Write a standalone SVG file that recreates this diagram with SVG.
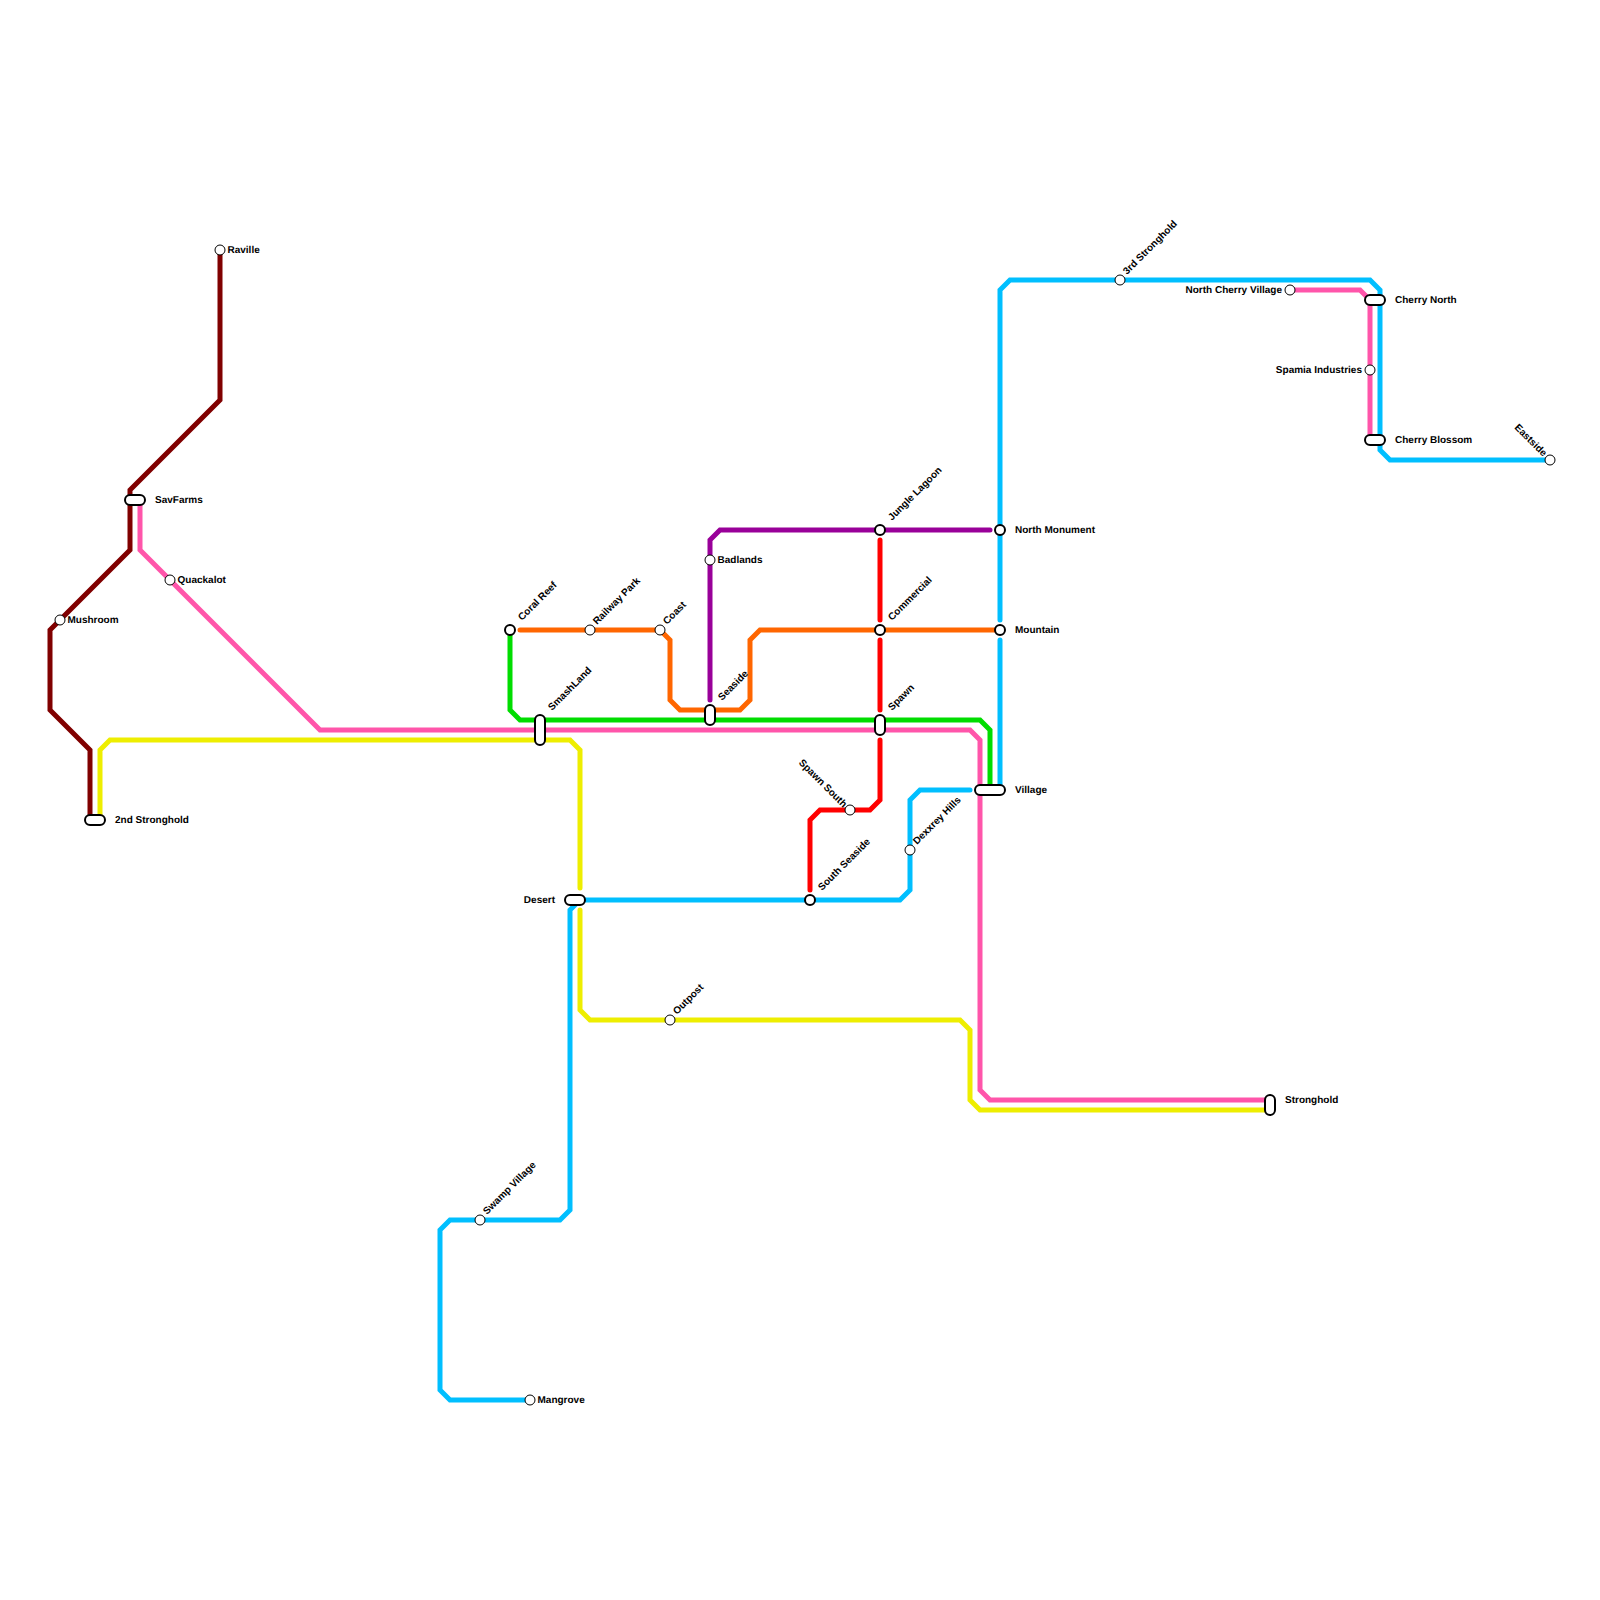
<svg xmlns="http://www.w3.org/2000/svg" width="1600" height="1600" viewBox="0 0 1600 1600">
<style>
.l{fill:none;stroke-width:5;stroke-linecap:round;stroke-linejoin:miter}
.s{fill:#fff;stroke:#000;stroke-width:1}
.t{fill:#fff;stroke:#000;stroke-width:2}
.p{fill:#fff;stroke:#000;stroke-width:2}
text{font-family:"Liberation Sans",Arial,sans-serif;font-size:10px;font-weight:bold;fill:#000;text-rendering:geometricPrecision}
</style>
<rect width="1600" height="1600" fill="#fff"/>
<g id="connectors">
<path class="l" stroke="#800000" d="M220 250V400L130 490V550L50 630V710L90 750V820"/>
<path class="l" stroke="#ff55aa" d="M140 500V550L320 730H970L980 740V1090L990 1100H1270"/>
<path class="l" stroke="#ff55aa" d="M1290 290H1360L1370 300V440"/>
<path class="l" stroke="#eeee00" d="M100 820V750L110 740H570L580 750V888"/>
<path class="l" stroke="#eeee00" d="M580 910V1010L590 1020H960L970 1030V1100L980 1110H1270"/>
<path class="l" stroke="#00dd00" d="M510 630V710L520 720H980L990 730V790"/>
<path class="l" stroke="#ff6600" d="M520 630H660L670 640V700L680 710H740L750 700V640L760 630H1000"/>
<path class="l" stroke="#990099" d="M710 700V540L720 530H990"/>
<path class="l" stroke="#ff0000" d="M880 540V620"/>
<path class="l" stroke="#ff0000" d="M880 640V710"/>
<path class="l" stroke="#ff0000" d="M880 740V800L870 810H820L810 820V890"/>
<path class="l" stroke="#00bfff" d="M530 1400H450L440 1390V1230L450 1220H560L570 1210V910L580 900H900L910 890V800L920 790H970"/>
<path class="l" stroke="#00bfff" d="M1000 790V640"/>
<path class="l" stroke="#00bfff" d="M1000 620V290L1010 280H1370L1380 290V450L1390 460H1550"/>
</g>
<g id="raville"><circle class="s" cx="220" cy="250" r="5"/><text x="227.500" y="252.500">Raville</text></g>
<g id="savfarms"><rect class="p" x="125" y="495" width="20" height="10" rx="5"/><text x="155" y="502.500">SavFarms</text></g>
<g id="quackalot"><circle class="s" cx="170" cy="580" r="5"/><text x="177.500" y="582.500">Quackalot</text></g>
<g id="mushroom"><circle class="s" cx="60" cy="620" r="5"/><text x="67.500" y="622.500">Mushroom</text></g>
<g id="second-stronghold"><rect class="p" x="85" y="815" width="20" height="10" rx="5"/><text x="115" y="822.500">2nd Stronghold</text></g>
<g id="coral-reef"><circle class="t" cx="510" cy="630" r="5"/><text transform="translate(522 621) rotate(-45)">Coral Reef</text></g>
<g id="railway-park"><circle class="s" cx="590" cy="630" r="5"/><text transform="translate(597 625) rotate(-45)">Railway Park</text></g>
<g id="coast"><circle class="s" cx="660" cy="630" r="5"/><text transform="translate(667 625) rotate(-45)">Coast</text></g>
<g id="smashland"><rect class="p" x="535" y="715" width="10" height="30" rx="5"/><text transform="translate(552 711) rotate(-45)">SmashLand</text></g>
<g id="seaside"><rect class="p" x="705" y="705" width="10" height="20" rx="5"/><text transform="translate(722 701) rotate(-45)">Seaside</text></g>
<g id="badlands"><circle class="s" cx="710" cy="560" r="5"/><text x="717.500" y="562.500">Badlands</text></g>
<g id="jungle-lagoon"><circle class="t" cx="880" cy="530" r="5"/><text transform="translate(892 521) rotate(-45)">Jungle Lagoon</text></g>
<g id="commercial"><circle class="t" cx="880" cy="630" r="5"/><text transform="translate(892 621) rotate(-45)">Commercial</text></g>
<g id="spawn"><rect class="p" x="875" y="715" width="10" height="20" rx="5"/><text transform="translate(892 711) rotate(-45)">Spawn</text></g>
<g id="spawn-south"><circle class="s" cx="850" cy="810" r="5"/><text text-anchor="end" transform="translate(843 808) rotate(45)">Spawn South</text></g>
<g id="south-seaside"><circle class="t" cx="810" cy="900" r="5"/><text transform="translate(822 891) rotate(-45)">South Seaside</text></g>
<g id="dexxrey-hills"><circle class="s" cx="910" cy="850" r="5"/><text transform="translate(917 845) rotate(-45)">Dexxrey Hills</text></g>
<g id="north-monument"><circle class="t" cx="1000" cy="530" r="5"/><text x="1015" y="532.500">North Monument</text></g>
<g id="mountain"><circle class="t" cx="1000" cy="630" r="5"/><text x="1015" y="632.500">Mountain</text></g>
<g id="village"><rect class="p" x="975" y="785" width="30" height="10" rx="5"/><text x="1015" y="792.500">Village</text></g>
<g id="desert"><rect class="p" x="565" y="895" width="20" height="10" rx="5"/><text x="555" y="902.500" text-anchor="end">Desert</text></g>
<g id="outpost"><circle class="s" cx="670" cy="1020" r="5"/><text transform="translate(677 1015) rotate(-45)">Outpost</text></g>
<g id="swamp-village"><circle class="s" cx="480" cy="1220" r="5"/><text transform="translate(487 1215) rotate(-45)">Swamp Village</text></g>
<g id="mangrove"><circle class="s" cx="530" cy="1400" r="5"/><text x="537.500" y="1402.500">Mangrove</text></g>
<g id="stronghold"><rect class="p" x="1265" y="1095" width="10" height="20" rx="5"/><text x="1285" y="1102.500">Stronghold</text></g>
<g id="third-stronghold"><circle class="s" cx="1120" cy="280" r="5"/><text transform="translate(1127 275) rotate(-45)">3rd Stronghold</text></g>
<g id="north-cherry-village"><circle class="s" cx="1290" cy="290" r="5"/><text x="1282" y="292.500" text-anchor="end">North Cherry Village</text></g>
<g id="cherry-north"><rect class="p" x="1365" y="295" width="20" height="10" rx="5"/><text x="1395" y="302.500">Cherry North</text></g>
<g id="spamia-industries"><circle class="s" cx="1370" cy="370" r="5"/><text x="1362" y="372.500" text-anchor="end">Spamia Industries</text></g>
<g id="cherry-blossom"><rect class="p" x="1365" y="435" width="20" height="10" rx="5"/><text x="1395" y="442.500">Cherry Blossom</text></g>
<g id="eastside"><circle class="s" cx="1550" cy="460" r="5"/><text text-anchor="end" transform="translate(1543 457) rotate(45)">Eastside</text></g>
</svg>
